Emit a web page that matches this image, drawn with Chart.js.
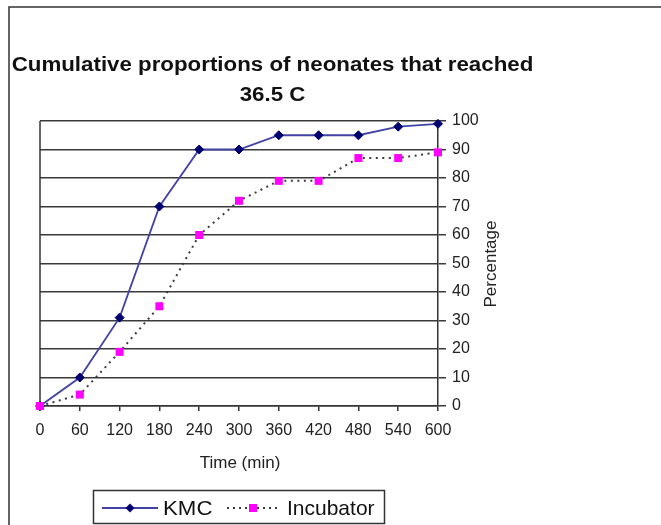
<!DOCTYPE html>
<html><head><meta charset="utf-8">
<script src="https://cdn.jsdelivr.net/npm/chart.js@4.4.0/dist/chart.umd.min.js"></script>
<style>html,body{margin:0;padding:0;background:#fff;}#wrap{position:relative;width:661px;height:525px;}</style>
</head><body><div id="wrap"><canvas id="c" width="661" height="525"></canvas></div>
<script>
const timeLabels = ['0','60','120','180','240','300','360','420','480','540','600'];
const kmcValues = [0, 10, 31, 70, 90, 90, 95, 95, 95, 98, 99];
const incubatorValues = [0, 4, 19, 35, 60, 72, 79, 79, 87, 87, 89];
const seriesNames = ['KMC', 'Incubator'];
const titleLines = ['Cumulative proportions of neonates that reached', '36.5 C'];
const xTitle = 'Time (min)';
const yTitle = 'Percentage';
const yMin = 0, yMax = 100, yStep = 10;

const FONT = '"Liberation Sans", Arial, sans-serif';
const KMC_LINE = '#4242a6';
const KMC_MARK = '#000070';
const INC_LINE = '#3a3a3a';
const INC_MARK = '#ff00ff';

function diamond(ctx, x, y, r, color) {
  ctx.fillStyle = color;
  ctx.beginPath();
  ctx.moveTo(x - r, y); ctx.lineTo(x, y - r); ctx.lineTo(x + r, y); ctx.lineTo(x, y + r);
  ctx.closePath(); ctx.fill();
}

function stretchedText(ctx, text, x, y, sx) {
  ctx.save();
  ctx.translate(x, y);
  ctx.scale(sx, 1);
  ctx.fillText(text, 0, 0);
  ctx.restore();
}

const decor = {
  id: 'decor',
  beforeDraw(chart) {
    const ctx = chart.ctx;
    ctx.save();
    ctx.fillStyle = '#fff';
    ctx.fillRect(0, 0, chart.width, chart.height);
    ctx.strokeStyle = '#333';
    ctx.lineWidth = 1.5;
    ctx.beginPath();
    ctx.moveTo(9, 525); ctx.lineTo(9, 7); ctx.lineTo(661, 7);
    ctx.stroke();
    ctx.restore();
  },
  beforeDatasetsDraw(chart) {
    const ctx = chart.ctx, a = chart.chartArea;
    ctx.save();
    ctx.strokeStyle = '#333';
    ctx.lineWidth = 1.5;
    ctx.beginPath();
    ctx.moveTo(a.left, a.top); ctx.lineTo(a.left, a.bottom);
    ctx.stroke();
    ctx.restore();
  },
  afterDraw(chart) {
    const ctx = chart.ctx;
    ctx.save();
    ctx.fillStyle = '#111';
    ctx.textAlign = 'center';
    ctx.textBaseline = 'middle';
    ctx.font = 'bold 20px ' + FONT;
    stretchedText(ctx, titleLines[0], 272.5, 65.5, 1.115);
    stretchedText(ctx, titleLines[1], 272.5, 95.5, 1.115);
    ctx.fillStyle = '#222';
    ctx.font = '17px ' + FONT;
    ctx.fillText(xTitle, 240, 463);
    ctx.save();
    ctx.translate(491, 264);
    ctx.rotate(-Math.PI / 2);
    ctx.fillText(yTitle, 0, 0);
    ctx.restore();

    // legend
    ctx.strokeStyle = '#333';
    ctx.lineWidth = 1.5;
    ctx.strokeRect(93.5, 490.5, 291, 33);
    const ly = 508;
    ctx.strokeStyle = KMC_LINE; ctx.lineWidth = 1.8;
    ctx.beginPath(); ctx.moveTo(102, ly); ctx.lineTo(158, ly); ctx.stroke();
    diamond(ctx, 130, ly, 4.5, KMC_MARK);
    ctx.strokeStyle = INC_LINE; ctx.lineWidth = 2; ctx.setLineDash([2, 4]);
    ctx.beginPath(); ctx.moveTo(227, ly); ctx.lineTo(281, ly); ctx.stroke();
    ctx.setLineDash([]);
    ctx.fillStyle = INC_MARK;
    ctx.fillRect(249, ly - 4, 8, 8);
    ctx.fillStyle = '#111';
    ctx.textAlign = 'left';
    ctx.font = '21px ' + FONT;
    stretchedText(ctx, seriesNames[0], 163, ly + 1, 1.06);
    stretchedText(ctx, seriesNames[1], 287, ly + 1, 1.0);
    ctx.restore();
  }
};

new Chart(document.getElementById('c'), {
  type: 'line',
  data: {
    labels: timeLabels,
    datasets: [
      {
        label: seriesNames[0], data: kmcValues,
        borderColor: KMC_LINE, borderWidth: 1.8, tension: 0,
        pointStyle: 'rectRot', pointRadius: 4.5, pointHoverRadius: 4.5,
        pointBackgroundColor: KMC_MARK, pointBorderColor: KMC_MARK, pointBorderWidth: 1,
        clip: false, order: 2
      },
      {
        label: seriesNames[1], data: incubatorValues,
        borderColor: INC_LINE, borderWidth: 2, borderDash: [2, 4.5], tension: 0,
        pointStyle: 'rect', pointRadius: 5.66, pointHoverRadius: 5.66,
        pointBackgroundColor: INC_MARK, pointBorderColor: INC_MARK, pointBorderWidth: 0,
        clip: false, order: 1
      }
    ]
  },
  options: {
    responsive: false,
    animation: false,
    devicePixelRatio: 1,
    layout: { padding: { left: 40, top: 121, right: 0, bottom: 0 } },
    plugins: { legend: { display: false }, title: { display: false }, tooltip: { enabled: false } },
    scales: {
      x: {
        type: 'category',
        offset: false,
        afterFit: s => { s.height = 119; },
        border: { display: true, color: '#333', width: 1.5 },
        grid: { drawOnChartArea: false, drawTicks: true, tickLength: 5, color: '#333', lineWidth: 1.5 },
        ticks: { autoSkip: false, maxRotation: 0, padding: 10, color: '#222', font: { family: FONT, size: 16 } }
      },
      y: {
        position: 'right',
        min: yMin, max: yMax,
        afterFit: s => { s.width = 223; },
        border: { display: true, color: '#333', width: 1.5 },
        grid: { color: '#3a3a3a', lineWidth: 1.5, tickLength: 8, drawTicks: true },
        ticks: { stepSize: yStep, padding: 6, color: '#222', font: { family: FONT, size: 16 } }
      }
    }
  },
  plugins: [decor]
});
</script>
</body></html>
